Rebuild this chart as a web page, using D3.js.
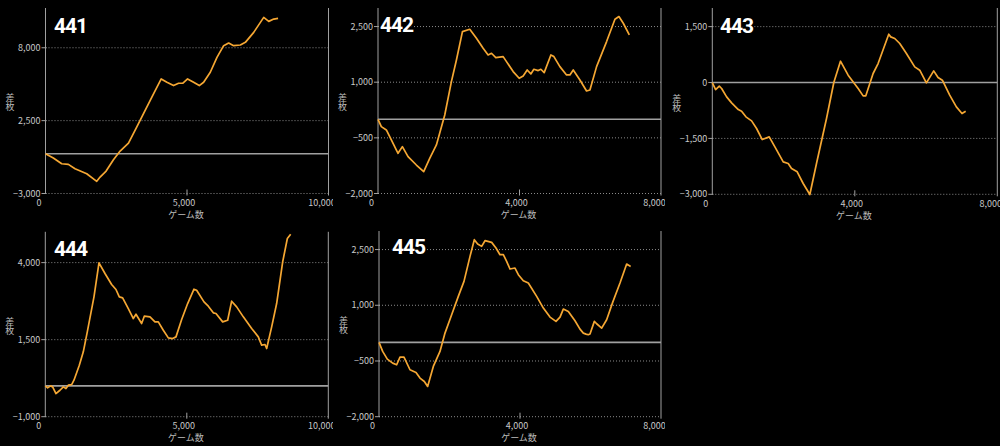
<!DOCTYPE html>
<meta charset="utf-8">
<style>
    body { margin: 0; background: #000; }
    svg { display: block; background: #000; }
    .tick-label { font-family: "Noto Sans CJK JP", sans-serif; font-size: 9px; fill: #c8c8c8; }
    .axis-title { font-family: "Noto Sans CJK JP", sans-serif; font-size: 9px; fill: #bdbdbd; }
    .vertical { writing-mode: vertical-rl; }
    .title { font-family: Roboto, sans-serif; font-weight: 700; font-size: 21px; fill: #fff;
             stroke: #000; stroke-width: 3px; paint-order: stroke; letter-spacing: -1px; }
</style>
<svg width="1000" height="446"></svg>
<script src="https://d3js.org/d3.v7.min.js"></script>
<script>

    // machine numbers
    var names = ["441", "442", "443", "444", "445"];

    // axis ranges and ticks
    var xMax = [10000, 8000, 8000, 10000, 8000];
    var xTicks = [[0, 5000, 10000], [0, 4000, 8000], [0, 4000, 8000], [0, 5000, 10000], [0, 4000, 8000]];
    var yDomains = [[-3000, 11000], [-2000, 3000], [-3000, 2000], [-1000, 5000], [-2000, 3000]];
    var yTicks = [[-3000, 2500, 8000], [-2000, -500, 1000, 2500], [-3000, -1500, 0, 1500],
                  [-1000, 1500, 4000], [-2000, -500, 1000, 2500]];

    // game count / medal difference
    var games441 = [0, 277, 572, 808, 1044, 1457, 1811, 1929, 2142, 2401, 2637, 2932, 3227, 3463, 3817, 4089,
                    4290, 4525, 4702, 4856, 5021, 5233, 5434, 5588, 5823, 6059, 6295, 6472, 6649, 6885, 7062,
                    7358, 7711, 7888, 8065, 8218];
    var diff441 = [0, -326, -753, -803, -1130, -1506, -2083, -1757, -1305, -452, 201, 803, 2033, 3037, 4518, 5648,
                   5397, 5146, 5321, 5321, 5648, 5397, 5146, 5397, 6150, 7279, 8158, 8359, 8158, 8208, 8409,
                   9162, 10291, 9990, 10165, 10216];

    var games442 = [0, 94, 236, 377, 566, 689, 849, 1085, 1292, 1462, 1651, 1887, 2075, 2217, 2387, 2594, 2783,
                    2972, 3113, 3208, 3330, 3538, 3632, 3821, 3991, 4104, 4217, 4321, 4406, 4528, 4604, 4698,
                    4887, 4972, 5142, 5330, 5425, 5519, 5708, 5896, 5991, 6179, 6462, 6698, 6811, 6934, 7104];
    var diff442 = [0, -198, -288, -557, -917, -737, -1007, -1232, -1411, -1052, -692, 117, 1016, 1600, 2364, 2427,
                   2185, 1915, 1735, 1780, 1663, 1690, 1555, 1286, 1106, 1169, 1330, 1223, 1349, 1313, 1349, 1259,
                   1735, 1690, 1420, 1196, 1196, 1330, 1061, 764, 791, 1420, 2095, 2697, 2769, 2589, 2274];

    var games443 = [0, 93, 196, 262, 402, 542, 729, 822, 944, 1103, 1243, 1402, 1598, 1757, 1991, 2131, 2224,
                    2383, 2551, 2738, 2925, 3206, 3411, 3598, 3813, 4094, 4234, 4309, 4514, 4654, 4953, 5009,
                    5121, 5262, 5449, 5682, 5823, 6009, 6215, 6337, 6458, 6664, 6851, 7009, 7112];
    var diff443 = [0, -188, -98, -161, -385, -546, -725, -769, -921, -1029, -1234, -1530, -1458, -1726, -2129,
                   -2174, -2308, -2397, -2710, -3005, -2174, -966, 0, 572, 197, -161, -358, -358, 242, 510, 1297,
                   1225, 1181, 1047, 778, 420, 331, -9, 313, 134, 63, -340, -653, -832, -769];

    var games444 = [0, 82, 188, 259, 377, 518, 636, 730, 813, 931, 1013, 1202, 1343, 1484, 1720, 1897, 2109,
                    2344, 2497, 2615, 2733, 2933, 3110, 3204, 3404, 3498, 3699, 3875, 3993, 4170, 4347, 4500,
                    4618, 4818, 5030, 5254, 5348, 5607, 5760, 5937, 6031, 6267, 6444, 6585, 6762, 6997, 7292,
                    7527, 7645, 7763, 7822, 7999, 8175, 8388, 8553, 8670];
    var diff444 = [0, -65, 0, -32, -249, -141, -32, -87, 22, 43, 184, 671, 1104, 1753, 2889, 3993, 3646, 3289,
                   3127, 2889, 2857, 2510, 2186, 2326, 2023, 2261, 2240, 2077, 2077, 1807, 1558, 1536, 1590, 2153,
                   2672, 3138, 3105, 2726, 2586, 2370, 2348, 2077, 2131, 2748, 2564, 2240, 1861, 1590, 1320, 1342,
                   1212, 1915, 2672, 4025, 4782, 4923];

    var games445 = [0, 104, 236, 388, 501, 596, 709, 879, 1050, 1163, 1286, 1380, 1541, 1730, 1872, 2061, 2250,
                    2411, 2582, 2704, 2799, 2912, 3007, 3196, 3319, 3432, 3527, 3621, 3716, 3858, 3953, 4094,
                    4236, 4473, 4662, 4851, 5021, 5135, 5229, 5371, 5560, 5702, 5797, 5872, 5938, 5986, 6109,
                    6175, 6317, 6458, 6629, 6837, 7026, 7139];
    var diff445 = [0, -242, -449, -557, -602, -395, -395, -736, -808, -961, -1051, -1185, -647, -242, 251, 745,
                   1239, 1643, 2317, 2766, 2649, 2586, 2739, 2694, 2541, 2362, 2362, 2182, 1976, 2003, 1823, 1661,
                   1598, 1239, 925, 682, 566, 682, 898, 835, 584, 359, 251, 224, 207, 225, 566, 503, 386, 610,
                   1078, 1598, 2110, 2047];

    var games = [games441, games442, games443, games444, games445];
    var diffs = [diff441, diff442, diff443, diff444, diff445];

    // where each small chart sits on the page
    var layout = [
        {left: 45.5, right: 328.5, top: 8, bottom: 193.5, clip: [0, 333], title: [54, 33]},
        {left: 378, right: 661, top: 8, bottom: 193.5, clip: [333, 665], title: [380, 32]},
        {left: 712.3, right: 997.3, top: 8, bottom: 194.3, clip: [665, 1000], title: [720, 33]},
        {left: 45.3, right: 328.3, top: 231.8, bottom: 416.7, clip: [0, 333], title: [54, 256]},
        {left: 379, right: 661, top: 231, bottom: 416.7, clip: [333, 665], title: [392, 254]}
    ];

    var fmt = d3.format(",");
    var svg = d3.select("svg");
    var axisColor = "#a0a0a0";

    names.forEach(function(name, i) {
        var L = layout[i];
        var x = d3.scaleLinear().domain([0, xMax[i]]).range([L.left, L.right]);
        var y = d3.scaleLinear().domain(yDomains[i]).range([L.bottom, L.top]);

        svg.append("clipPath").attr("id", "clip" + i)
            .append("rect")
            .attr("x", L.clip[0]).attr("y", L.top - 10)
            .attr("width", L.clip[1] - L.clip[0]).attr("height", 225);

        var g = svg.append("g").attr("clip-path", "url(#clip" + i + ")");

        // dotted grid
        g.selectAll(".grid").data(yTicks[i]).enter().append("line")
            .attr("x1", L.left).attr("x2", L.right)
            .attr("y1", function(d) { return y(d); })
            .attr("y2", function(d) { return y(d); })
            .attr("stroke", "#8a8a8a").attr("stroke-dasharray", "1,2");

        // zero line
        g.append("line")
            .attr("x1", L.left).attr("x2", L.right)
            .attr("y1", y(0)).attr("y2", y(0))
            .attr("stroke", axisColor).attr("stroke-width", 1.6);

        // frame sides
        g.append("line").attr("x1", L.left).attr("x2", L.left)
            .attr("y1", L.top).attr("y2", L.bottom)
            .attr("stroke", axisColor);
        g.append("line").attr("x1", L.right).attr("x2", L.right)
            .attr("y1", L.top).attr("y2", L.bottom + 2)
            .attr("stroke", axisColor);

        // y ticks
        g.selectAll(".ytick").data(yTicks[i]).enter().append("line")
            .attr("x1", L.left - 4).attr("x2", L.left + 1)
            .attr("y1", function(d) { return y(d); })
            .attr("y2", function(d) { return y(d); })
            .attr("stroke", axisColor);
        g.selectAll(".ylab").data(yTicks[i]).enter().append("text")
            .attr("class", "tick-label")
            .attr("x", L.left - 5)
            .attr("y", function(d) { return y(d); })
            .attr("dy", "0.35em")
            .attr("text-anchor", "end")
            .text(function(d) { return fmt(d); });

        // x ticks
        g.selectAll(".xtick").data(xTicks[i].slice(1, -1)).enter().append("line")
            .attr("x1", function(d) { return x(d); })
            .attr("x2", function(d) { return x(d); })
            .attr("y1", L.bottom - 4).attr("y2", L.bottom + 2)
            .attr("stroke", axisColor);
        g.selectAll(".xlab").data(xTicks[i]).enter().append("text")
            .attr("class", "tick-label")
            .attr("x", function(d, k) { return x(d) + (k == 1 ? -3 : -6.5); })
            .attr("y", L.bottom + 12.5)
            .attr("text-anchor", "middle")
            .text(function(d) { return fmt(d); });

        // axis titles
        g.append("text").attr("class", "axis-title")
            .attr("x", (L.left + L.right) / 2 - 1)
            .attr("y", L.bottom + 24.5)
            .attr("text-anchor", "middle")
            .text("ゲーム数");
        g.append("text").attr("class", "axis-title vertical")
            .attr("x", L.left - 35.5)
            .attr("y", (L.top + L.bottom) / 2 + 1.5)
            .attr("text-anchor", "middle")
            .text("差枚");

        // medal difference line
        var pts = games[i].map(function(v, k) { return [v, diffs[i][k]]; });
        g.append("path")
            .datum(pts)
            .attr("fill", "none")
            .attr("stroke", "#f5a733")
            .attr("stroke-width", 1.7)
            .attr("stroke-linejoin", "round")
            .attr("d", d3.line()
                .x(function(d) { return x(d[0]); })
                .y(function(d) { return y(d[1]); }));

        // machine number
        g.append("text").attr("class", "title")
            .attr("x", L.title[0]).attr("y", L.title[1])
            .text(name);
    });

</script>
